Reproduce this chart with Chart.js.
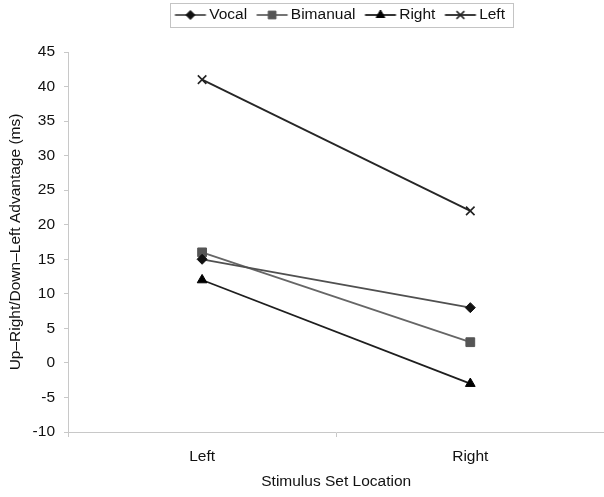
<!DOCTYPE html>
<html>
<head>
<meta charset="utf-8">
<script src="https://cdn.jsdelivr.net/npm/chart.js@4/dist/chart.umd.min.js"></script>
<style>
  html, body { margin: 0; padding: 0; background: #fff; overflow: hidden; width: 604px; height: 497px; }
  canvas { display: block; }
</style>
</head>
<body>
<canvas id="c" width="612" height="497"></canvas>
<script>
// ---- data ----
const categories = ['Left', 'Right'];
const vocal      = [15, 8];
const bimanual   = [16, 3];
const rightHand  = [12, -3];
const leftHand   = [41, 22];
const yTickMin = -10, yTickMax = 45, yTickStep = 5;
const seriesNames = ['Vocal', 'Bimanual', 'Right', 'Left'];

Chart.defaults.font.family = "'Liberation Sans', Arial, sans-serif";
Chart.defaults.font.size = 15.5;
Chart.defaults.color = '#111';

const styles = [
  { point: 'rectRot',  radius: 5,   legendRadius: 4.5, fill: '#111', line: '#505050' },
  { point: 'rect',     radius: 6.2, legendRadius: 5.5, fill: '#555', line: '#666' },
  { point: 'triangle', radius: 5.6, legendRadius: 5,   fill: '#000', line: '#1e1e1e' },
  { point: 'crossRot', radius: 6,   legendRadius: 5.5, fill: '#222', line: '#262626' }
];
const seriesData = [vocal, bimanual, rightHand, leftHand];

function legendImage(st) {
  const c = document.createElement('canvas');
  c.width = 40; c.height = 16;
  const g = c.getContext('2d');
  g.strokeStyle = st.line; g.lineWidth = 1.8;
  g.beginPath(); g.moveTo(6.5, 8); g.lineTo(37.5, 8); g.stroke();
  g.fillStyle = st.fill; g.strokeStyle = st.fill;
  g.lineWidth = st.point === 'crossRot' ? 1.5 : 1;
  Chart.helpers.drawPoint(g, { pointStyle: st.point, radius: st.legendRadius, borderWidth: g.lineWidth, rotation: 0 }, 22, 8);
  return c;
}
const legendImages = styles.map(legendImage);

const datasets = seriesNames.map((name, i) => ({
  label: name,
  data: seriesData[i],
  borderColor: styles[i].line,
  borderWidth: 1.8,
  tension: 0,
  fill: false,
  pointStyle: styles[i].point,
  pointRadius: styles[i].radius,
  pointHoverRadius: styles[i].radius,
  pointBackgroundColor: styles[i].fill,
  pointBorderColor: styles[i].fill,
  pointBorderWidth: styles[i].point === 'crossRot' ? 1.6 : 1
}));

const legendTweak = {
  id: 'legendTweak',
  afterLayout(chart) {
    const lg = chart.legend, ca = chart.chartArea;
    lg.left = ca.left + 8; lg.right = ca.right; lg.width = lg.right - lg.left;
    const h = lg.height;
    lg.top = -2.75; lg.bottom = lg.top + h;
  },
  afterDraw(chart) {
    const hb = chart.legend.legendHitBoxes;
    if (!hb || !hb.length) return;
    let l = Infinity, r = -Infinity;
    hb.forEach(b => { l = Math.min(l, b.left); r = Math.max(r, b.left + b.width); });
    const t = hb[0].top, hh = hb[0].height;
    const ctx = chart.ctx;
    ctx.save();
    ctx.strokeStyle = '#c4c4c4'; ctx.lineWidth = 1;
    ctx.strokeRect(Math.round(l - 5) + 0.5, Math.round(t - 4.25) + 0.5, Math.round(r - l + 13), Math.round(hh + 8.5));
    ctx.restore();
  }
};

new Chart(document.getElementById('c'), {
  type: 'line',
  data: { labels: categories, datasets },
  options: {
    responsive: false,
    animation: false,
    devicePixelRatio: 1,
    layout: { padding: { top: 16.5, left: 0, right: 0, bottom: 0 } },
    plugins: {
      tooltip: { enabled: false },
      legend: {
        position: 'top',
        align: 'center',
        labels: {
          usePointStyle: true,
          pointStyleWidth: 26,
          padding: 10,
          color: '#111',
          font: { size: 15.5 },
          generateLabels: (chart) => chart.data.datasets.map((ds, i) => ({
            text: ds.label,
            pointStyle: legendImages[i],
            datasetIndex: i,
            hidden: false,
            lineWidth: 0,
            fillStyle: 'transparent',
            strokeStyle: 'transparent',
            fontColor: '#111'
          }))
        }
      }
    },
    scales: {
      x: {
        type: 'category',
        offset: true,
        grid: { display: true, drawOnChartArea: false, drawTicks: true, tickLength: 5, color: '#c8c8c8', offset: true },
        border: { display: true, color: '#c8c8c8', width: 1 },
        ticks: { color: '#111', font: { size: 15.5 }, padding: 10 },
        title: { display: true, text: 'Stimulus Set Location', color: '#111', font: { size: 15.5 }, padding: { top: 4, bottom: 6 } },
        afterFit: (s) => { s.height = 65; }
      },
      y: {
        min: yTickMin,
        max: yTickMax,
        ticks: { stepSize: yTickStep, color: '#111', font: { size: 15.5 }, padding: 9 },
        grid: { display: true, drawOnChartArea: false, drawTicks: true, tickLength: 4, color: '#c8c8c8' },
        border: { display: true, color: '#c8c8c8', width: 1 },
        title: { display: true, text: 'Up–Right/Down–Left Advantage (ms)', color: '#111', font: { size: 15.5 }, padding: { top: 6, bottom: 4 } },
        afterFit: (s) => { s.width = 68; }
      }
    }
  },
  plugins: [legendTweak]
});
</script>
</body>
</html>
